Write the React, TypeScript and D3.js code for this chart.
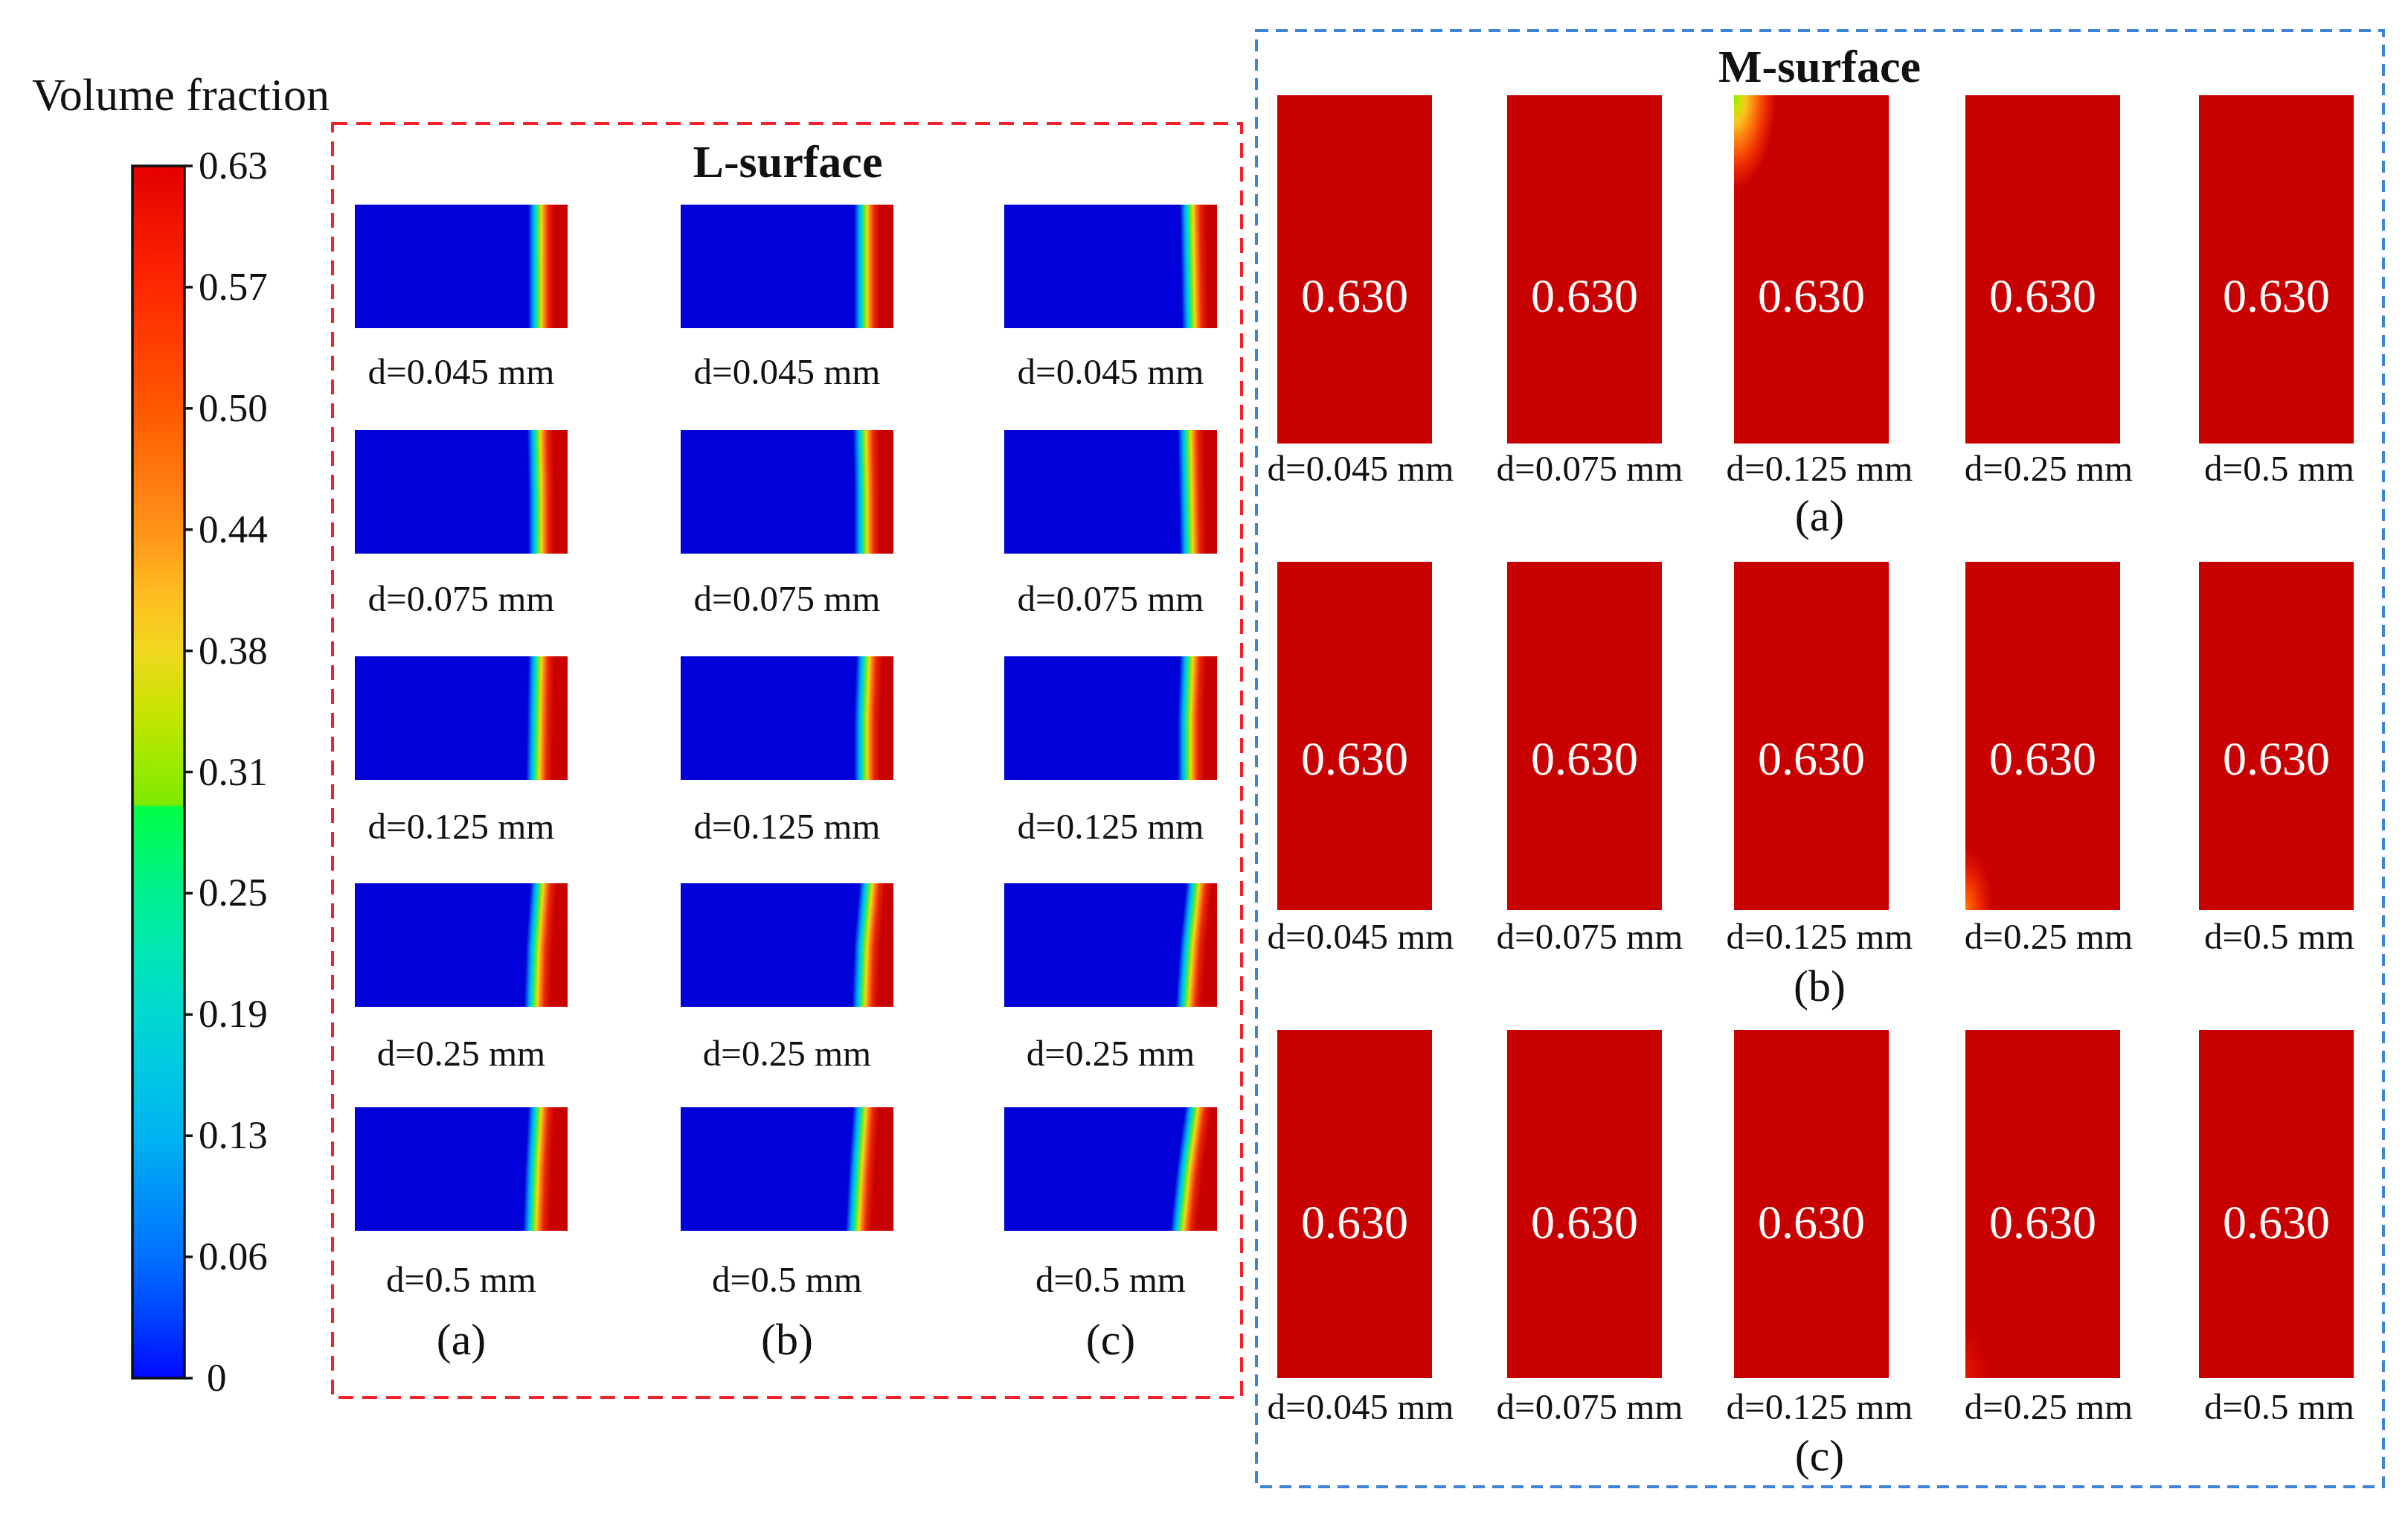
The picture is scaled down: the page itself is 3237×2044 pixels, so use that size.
import React from 'react';
import * as d3 from 'd3';

const W = 3237;
const H = 2044;

// ---------- colour bar data ----------
const cbTitle = 'Volume fraction';
const cbMax = 0.63;
const cbTickLabels = ['0', '0.06', '0.13', '0.19', '0.25', '0.31', '0.38', '0.44', '0.50', '0.57', '0.63'];
const cbStopValues = [0, 0.03, 0.063, 0.1, 0.126, 0.16, 0.189, 0.22, 0.252, 0.297, 0.298, 0.315, 0.347, 0.378, 0.41, 0.441, 0.504, 0.567, 0.63];
const cbStopColors = ['#0008ff', '#0040ff', '#0070ff', '#0098f8', '#00b4f0', '#00c8e2', '#00d8d0', '#00e6b4', '#00f090', '#00ff44', '#7ee800', '#96ea00', '#c8e400', '#f0d820', '#ffba20', '#ff9218', '#ff5800', '#ff2800', '#e40000'];
const panelStopColors = ['#0000d8', '#0030ec', '#0070ff', '#0098f8', '#00b4f0', '#00c8e2', '#00d8d0', '#00e6b4', '#00f090', '#00ff44', '#7ee800', '#96ea00', '#c8e400', '#f0d820', '#ffba20', '#ff9218', '#ff5800', '#e81c00', '#c80000'];

// ---------- L-surface data ----------
const lTitle = 'L-surface';
const lDiameters = ['d=0.045 mm', 'd=0.075 mm', 'd=0.125 mm', 'd=0.25 mm', 'd=0.5 mm'];
const lCases = ['(a)', '(b)', '(c)'];
// x-fraction of the 0.31 iso-line at [top, middle, bottom] of each panel, per diameter row
const lFrontCaseA = [[0.865, 0.865, 0.865], [0.86, 0.865, 0.865], [0.865, 0.86, 0.855], [0.875, 0.855, 0.845], [0.865, 0.85, 0.84]];
const lFrontCaseB = [[0.865, 0.865, 0.865], [0.86, 0.865, 0.865], [0.875, 0.865, 0.865], [0.89, 0.865, 0.855], [0.86, 0.84, 0.825]];
const lFrontCaseC = [[0.875, 0.88, 0.885], [0.865, 0.87, 0.875], [0.875, 0.865, 0.865], [0.905, 0.875, 0.855], [0.9, 0.86, 0.83]];
// volume-fraction profile across the front (offset from iso-line, value)
const lProfileOffset = [-0.05, -0.026, -0.011, 0, 0.012, 0.024, 0.045, 0.075];
const lProfileValue = [0, 0.12, 0.22, 0.3, 0.38, 0.45, 0.56, 0.63];

// ---------- M-surface data ----------
const mTitle = 'M-surface';
const mDiameters = ['d=0.045 mm', 'd=0.075 mm', 'd=0.125 mm', 'd=0.25 mm', 'd=0.5 mm'];
const mCases = ['(a)', '(b)', '(c)'];
const mValues = [
  [0.63, 0.63, 0.63, 0.63, 0.63],
  [0.63, 0.63, 0.63, 0.63, 0.63],
  [0.63, 0.63, 0.63, 0.63, 0.63],
];
// local low-fraction spots: row, column, corner, minimum value, radius (fraction of panel)
const mSpotRow = [0, 1, 2];
const mSpotCol = [2, 3, 3];
const mSpotCorner = ['top', 'bottom', 'bottom'];
const mSpotMin = [0.3, 0.47, 0.58];
const mSpotRadius = [0.27, 0.18, 0.15];

// ---------- layout ----------
const FONT = '"Liberation Serif", "Times New Roman", serif';
const cbLeft = 178, cbRight = 248, cbTop = 223, cbBottom = 1852;
const lBox = { x: 447, y: 166, w: 1222, h: 1712 };
const mBox = { x: 1689, y: 41, w: 1515, h: 1957 };
const lColLeft = [477, 915, 1350];
const lWidth = 286;
const lRowTop = [275, 578, 882, 1187, 1488];
const lHeight = 166;
const lLabelBase = [516, 821, 1127, 1432, 1736];
const lCaseBase = 1820;
const mColCenter = [1821, 2130, 2435, 2746, 3060];
const mLabelCenter = [1829, 2137, 2446, 2754, 3064];
const mWidth = 208;
const mRowTop = [128, 755, 1384];
const mHeight = 468;
const mValueBase = [419, 1041, 1664];
const mLabelBase = [646, 1275, 1907];
const mCaseBase = [713, 1345, 1976];

export default function App() {
  const cbY = d3.scaleLinear().domain([0, cbMax]).range([cbBottom, cbTop]);
  const panelColor = d3
    .scaleLinear<string>()
    .domain(cbStopValues)
    .range(panelStopColors)
    .interpolate(d3.interpolateRgb)
    .clamp(true);
  const tickValues = cbTickLabels.map((_, i) => (cbMax * i) / (cbTickLabels.length - 1));

  const lFronts = [lFrontCaseA, lFrontCaseB, lFrontCaseC];
  const nStrips = 40;
  const defs: React.ReactNode[] = [];
  const lPanels: React.ReactNode[] = [];

  lFronts.forEach((caseFronts, ci) => {
    caseFronts.forEach((f, ri) => {
      const x0 = lColLeft[ci];
      const y0 = lRowTop[ri];
      const fy = d3.scaleLinear().domain([0, 0.5, 1]).range(f);
      const sh = lHeight / nStrips;
      d3.range(nStrips).forEach((si) => {
        const g = fy((si + 0.5) / nStrips);
        const id = `lg-${ci}-${ri}-${si}`;
        defs.push(
          <linearGradient key={id} id={id} x1="0" y1="0" x2="1" y2="0">
            {lProfileOffset.map((o, k) => (
              <stop key={k} offset={Math.max(0, Math.min(1, g + o))} stopColor={panelColor(lProfileValue[k])} />
            ))}
          </linearGradient>
        );
        lPanels.push(
          <rect
            key={id}
            x={x0}
            y={y0 + si * sh}
            width={lWidth}
            height={sh + (si < nStrips - 1 ? 0.8 : 0)}
            fill={`url(#${id})`}
            shapeRendering="crispEdges"
          />
        );
      });
    });
  });

  mSpotRow.forEach((r, i) => {
    const id = `ms-${i}`;
    const minV = mSpotMin[i];
    const ts = [0, 0.15, 0.3, 0.5, 0.75, 1];
    defs.push(
      <radialGradient
        key={id}
        id={id}
        cx="0"
        cy={mSpotCorner[i] === 'top' ? '0' : '1'}
        r={mSpotRadius[i]}
        fx="0"
        fy={mSpotCorner[i] === 'top' ? '0' : '1'}
      >
        {ts.map((t, k) => (
          <stop key={k} offset={t} stopColor={panelColor(minV + (cbMax - minV) * t)} />
        ))}
      </radialGradient>
    );
  });

  return (
    <svg width={W} height={H} style={{ position: 'absolute', left: 0, top: 0, background: '#fff' }}>
      <defs>
        <linearGradient id="cb" x1="0" y1="1" x2="0" y2="0">
          {cbStopValues.map((v, i) => (
            <stop key={i} offset={v / cbMax} stopColor={cbStopColors[i]} />
          ))}
        </linearGradient>
        {defs}
      </defs>
      <rect x={0} y={0} width={W} height={H} fill="#fff" />

      {/* colour bar */}
      <text x={43} y={148} fontFamily={FONT} fontSize={62} fill="#111">
        {cbTitle}
      </text>
      <rect x={cbLeft} y={cbTop} width={cbRight - cbLeft} height={cbBottom - cbTop} fill="url(#cb)" stroke="#111" strokeWidth={3.5} />
      {tickValues.map((v, i) => (
        <g key={i}>
          <line x1={cbRight} x2={cbRight + 11} y1={cbY(v)} y2={cbY(v)} stroke="#111" strokeWidth={3.5} />
          <text x={i === 0 ? 278 : 267} y={cbY(v) + 17} fontFamily={FONT} fontSize={53} fill="#111">
            {cbTickLabels[i]}
          </text>
        </g>
      ))}

      {/* L-surface */}
      <rect x={lBox.x} y={lBox.y} width={lBox.w} height={lBox.h} fill="none" stroke="#f2222a" strokeWidth={4} strokeDasharray="20 12" />
      <text x={1059} y={238} textAnchor="middle" fontFamily={FONT} fontSize={62} fontWeight="bold" fill="#111">
        {lTitle}
      </text>
      {lPanels}
      {lCases.map((c, ci) => (
        <g key={c}>
          {lDiameters.map((d, ri) => (
            <text key={d} x={lColLeft[ci] + lWidth / 2} y={lLabelBase[ri]} textAnchor="middle" fontFamily={FONT} fontSize={49} fill="#111">
              {d}
            </text>
          ))}
          <text x={lColLeft[ci] + lWidth / 2} y={lCaseBase} textAnchor="middle" fontFamily={FONT} fontSize={60} fill="#111">
            {c}
          </text>
        </g>
      ))}

      {/* M-surface */}
      <rect x={mBox.x} y={mBox.y} width={mBox.w} height={mBox.h} fill="none" stroke="#3d84d8" strokeWidth={4} strokeDasharray="16 10" />
      <text x={2446} y={110} textAnchor="middle" fontFamily={FONT} fontSize={62} fontWeight="bold" fill="#111">
        {mTitle}
      </text>
      {mCases.map((c, ri) => (
        <g key={c}>
          {mDiameters.map((d, ci) => {
            const spot = mSpotRow.findIndex((r, k) => r === ri && mSpotCol[k] === ci);
            const x0 = mColCenter[ci] - mWidth / 2;
            const y0 = mRowTop[ri];
            return (
              <g key={d}>
                <rect x={x0} y={y0} width={mWidth} height={mHeight} fill={panelColor(mValues[ri][ci])} />
                {spot >= 0 && <rect x={x0} y={y0} width={mWidth} height={mHeight} fill={`url(#ms-${spot})`} />}
                <text x={mColCenter[ci]} y={mValueBase[ri]} textAnchor="middle" fontFamily={FONT} fontSize={64} fill="#fff">
                  {d3.format('.3f')(mValues[ri][ci])}
                </text>
                <text x={mLabelCenter[ci]} y={mLabelBase[ri]} textAnchor="middle" fontFamily={FONT} fontSize={49} fill="#111">
                  {d}
                </text>
              </g>
            );
          })}
          <text x={2446} y={mCaseBase[ri]} textAnchor="middle" fontFamily={FONT} fontSize={60} fill="#111">
            {c}
          </text>
        </g>
      ))}
    </svg>
  );
}
